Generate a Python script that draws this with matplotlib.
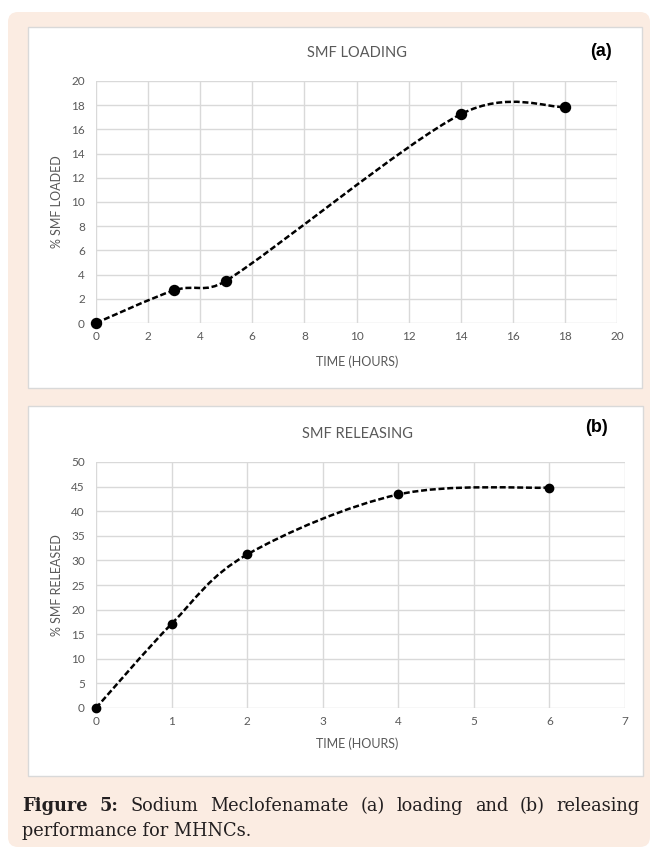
import numpy as np
import matplotlib.pyplot as plt
from matplotlib.patches import FancyBboxPatch, Rectangle, PathPatch
from matplotlib.path import Path

# ---- data ----
load_time = [0, 3, 5, 14, 18]
load_pct = [0, 2.7, 3.5, 17.25, 17.85]
load_xticks = list(range(0, 21, 2))
load_yticks = list(range(0, 21, 2))

release_time = [0, 1, 2, 4, 6]
release_pct = [0, 17.1, 31.2, 43.4, 44.8]
release_xticks = list(range(0, 8))
release_yticks = list(range(0, 51, 5))

caption_line1 = ["Figure", "5:", "Sodium", "Meclofenamate", "(a)", "loading",
                 "and", "(b)", "releasing"]
caption_bold = 2
caption_line2 = "performance for MHNCs."

W, H, DPI = 657, 850, 100
PEACH = "#fbece2"
GRID = "#d9d9d9"
TXT = "#595959"

fig = plt.figure(figsize=(W / DPI, H / DPI), dpi=DPI)
fig.patch.set_facecolor("white")
inch = fig.dpi_scale_trans


def rect(l, t, r, b):
    # pixel box (from top-left) -> figure fraction
    return [l / W, 1 - b / H, (r - l) / W, (b - t) / H]


def fx(x):
    return x / W


def fy(y):
    return 1 - y / H


# background card
fig.patches.append(FancyBboxPatch((8 / DPI, (H - 847) / DPI), 642 / DPI, 835 / DPI,
                                  boxstyle="round,pad=0,rounding_size=0.1",
                                  transform=inch, fc=PEACH, ec="none", zorder=-3))
for (l, t, r, b) in [(28, 27, 642, 388), (28, 406, 643, 776)]:
    fig.patches.append(Rectangle((l / DPI, (H - b) / DPI), (r - l) / DPI, (b - t) / DPI,
                                 transform=inch, fc="white", ec=GRID, lw=1, zorder=-2))


def excel_smooth(ax, xs, ys):
    # bezier smoothing like excel's "smoothed line", computed in screen space
    pts = ax.transData.transform(np.column_stack([xs, ys]))
    n = len(pts)
    verts = [pts[0]]
    codes = [Path.MOVETO]
    for i in range(n - 1):
        p0 = pts[max(i - 1, 0)]
        p1 = pts[i]
        p2 = pts[i + 1]
        p3 = pts[min(i + 2, n - 1)]
        seg = np.hypot(*(p2 - p1))
        d1 = (p2 - p0) / 6.0
        d2 = (p3 - p1) / 6.0
        l1 = np.hypot(*d1)
        l2 = np.hypot(*d2)
        if l1 > 0.5 * seg:
            d1 = d1 * 0.5 * seg / l1
        if l2 > 0.5 * seg:
            d2 = d2 * 0.5 * seg / l2
        verts += [p1 + d1, p2 - d2, p2]
        codes += [Path.CURVE4] * 3
    verts = ax.transData.inverted().transform(np.array(verts))
    return Path(verts, codes)


def make_panel(box, xs, ys, xticks, yticks, ms):
    ax = fig.add_axes(rect(*box))
    ax.set_xlim(xticks[0], xticks[-1])
    ax.set_ylim(yticks[0], yticks[-1])
    ax.set_xticks(xticks)
    ax.set_yticks(yticks)
    ax.set_facecolor("white")
    ax.grid(True, color=GRID, lw=1.0)
    ax.set_axisbelow(True)
    for s in ax.spines.values():
        s.set_visible(False)
    ax.tick_params(length=0, labelsize=8.5, labelcolor=TXT)
    ax.tick_params(axis="y", pad=8)
    ax.tick_params(axis="x", pad=6)
    for lab in ax.get_xticklabels() + ax.get_yticklabels():
        lab.set_fontfamily("Lato")
    path = excel_smooth(ax, xs, ys)
    ax.add_patch(PathPatch(path, fill=False, ec="black", lw=1.8,
                           ls=(0, (2.4, 1.1)), zorder=3, clip_on=False))
    ax.plot(xs, ys, "o", color="black", ms=ms, zorder=4, clip_on=False)
    return ax


ax_a = make_panel((96, 81, 617, 323), load_time, load_pct,
                  load_xticks, load_yticks, 7.2)
ax_b = make_panel((96, 462, 625, 708), release_time, release_pct,
                  release_xticks, release_yticks, 6.0)

# titles and labels
fig.text(fx(357), fy(53), "SMF LOADING", ha="center", va="center",
         fontsize=10.5, color=TXT, family="Lato")
fig.text(fx(357), fy(434), "SMF RELEASING", ha="center", va="center",
         fontsize=10.5, color=TXT, family="Lato")
fig.text(fx(601), fy(51), "(a)", ha="center", va="center", fontsize=13,
         fontweight="bold", color="black", family="Liberation Sans")
fig.text(fx(596), fy(428), "(b)", ha="center", va="center", fontsize=13,
         fontweight="bold", color="black", family="Liberation Sans")
fig.text(fx(57), fy(202), "% SMF LOADED", rotation=90, ha="center", va="center",
         fontsize=9, color=TXT, family="Lato")
fig.text(fx(57), fy(585), "% SMF RELEASED", rotation=90, ha="center", va="center",
         fontsize=9, color=TXT, family="Lato")
fig.text(fx(357), fy(362), "TIME (HOURS)", ha="center", va="center",
         fontsize=9, color=TXT, family="Lato")
fig.text(fx(357), fy(744), "TIME (HOURS)", ha="center", va="center",
         fontsize=9, color=TXT, family="Lato")

# caption, first line justified between x=22 and x=640
cap_kw = dict(fontsize=12.8, family="DejaVu Serif", color="#231f20", va="baseline")
renderer = fig.canvas.get_renderer()
words = []
for i, w in enumerate(caption_line1):
    t = fig.text(0, fy(811), w, fontweight="bold" if i < caption_bold else "normal",
                 **cap_kw)
    words.append(t)
widths = [t.get_window_extent(renderer).width for t in words]
left, right = 22, 640
gap = (right - left - sum(widths)) / (len(words) - 1)
x = left
for t, wd in zip(words, widths):
    t.set_x(fx(x))
    x += wd + gap
fig.text(fx(left), fy(836), caption_line2, **cap_kw)

fig.savefig("out.png", dpi=DPI)
